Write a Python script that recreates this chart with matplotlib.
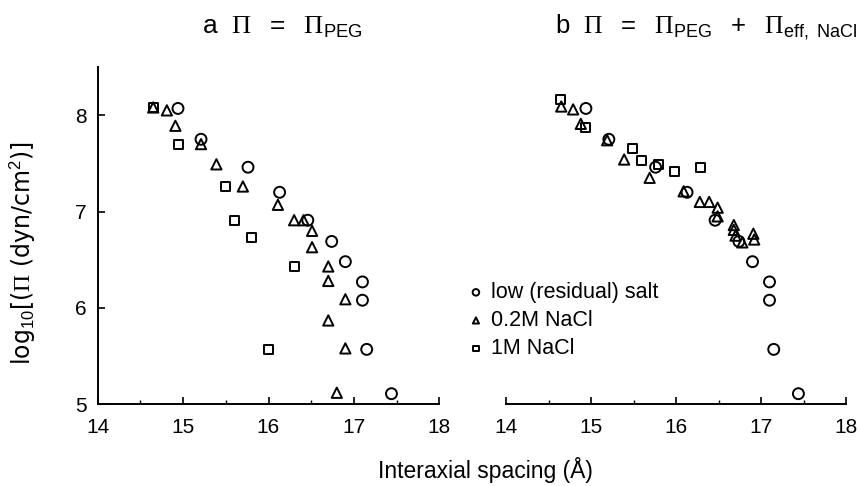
import matplotlib
matplotlib.use("Agg")
import matplotlib.pyplot as plt
from matplotlib.ticker import MultipleLocator

plt.rcParams['font.family'] = ['Liberation Sans', 'DejaVu Sans']
plt.rcParams['mathtext.fontset'] = 'custom'
plt.rcParams['mathtext.rm'] = 'Liberation Sans'
plt.rcParams['mathtext.it'] = 'Liberation Sans:italic'
plt.rcParams['mathtext.sf'] = 'Liberation Serif'

# Low (residual) salt: identical in both panels
low_x = [14.94, 15.21, 15.76, 16.13, 16.46, 16.74, 16.90, 17.10, 17.10, 17.15, 17.44]
low_y = [8.07, 7.75, 7.46, 7.20, 6.91, 6.69, 6.48, 6.27, 6.08, 5.57, 5.11]

# 0.2M NaCl
tri_x_a = [14.65, 14.81, 14.91, 15.21, 15.39, 15.70, 16.11, 16.30, 16.41, 16.51, 16.51,
           16.70, 16.70, 16.90, 16.70, 16.90, 16.80]
tri_y_a = [8.08, 8.05, 7.89, 7.70, 7.49, 7.26, 7.07, 6.91, 6.91, 6.80, 6.63,
           6.43, 6.28, 6.09, 5.87, 5.58, 5.12]
tri_x_b = [14.65, 14.79, 14.88, 15.19, 15.39, 15.69, 16.09, 16.28, 16.39, 16.49, 16.49,
           16.68, 16.68, 16.70, 16.91, 16.92, 16.78]
tri_y_b = [8.09, 8.06, 7.91, 7.74, 7.54, 7.35, 7.21, 7.10, 7.10, 7.04, 6.95,
           6.86, 6.81, 6.75, 6.77, 6.71, 6.68]

# 1M NaCl
sq_x_a = [14.65, 14.95, 15.50, 15.60, 15.80, 16.30, 16.00]
sq_y_a = [8.08, 7.70, 7.26, 6.91, 6.73, 6.43, 5.57]
sq_x_b = [14.64, 14.94, 15.49, 15.59, 15.79, 15.98, 16.29]
sq_y_b = [8.16, 7.87, 7.65, 7.53, 7.49, 7.42, 7.46]

labels = ['low (residual) salt', '0.2M NaCl', '1M NaCl']
xticks = [14, 15, 16, 17, 18]
yticks = [5, 6, 7, 8]

W, H = 859, 486
fig = plt.figure(figsize=(W / 100, H / 100), dpi=100)
axa = fig.add_axes([97.7 / W, 1 - 404.3 / H, 341.6 / W, 337.3 / H])
axb = fig.add_axes([506 / W, 1 - 404.3 / H, 340 / W, 337.3 / H])

mk = dict(facecolors='none', edgecolors='black', linewidths=1.4, clip_on=False, zorder=3)
handles = []
for ax, tx, ty, sx, sy in [(axa, tri_x_a, tri_y_a, sq_x_a, sq_y_a),
                           (axb, tri_x_b, tri_y_b, sq_x_b, sq_y_b)]:
    h1 = ax.scatter(low_x, low_y, marker='o', s=62, **mk)
    h2 = ax.scatter(tx, ty, marker='^', s=55, **mk)
    h3 = ax.scatter(sx, sy, marker='s', s=42, **mk)
    handles = [h1, h2, h3]
    ax.set_xlim(14, 18)
    ax.set_ylim(5, 8.5)
    ax.set_xticks(xticks)
    ax.xaxis.set_minor_locator(MultipleLocator(0.5))
    ax.spines['top'].set_visible(False)
    ax.spines['right'].set_visible(False)
    ax.spines['bottom'].set_linewidth(1.4)
    ax.spines['left'].set_linewidth(1.4)
    ax.tick_params(axis='both', which='major', direction='in', length=5, width=1.2,
                   labelsize=15)
    ax.tick_params(axis='x', which='major', pad=10)
    ax.tick_params(axis='y', which='major', pad=8)
    ax.tick_params(axis='x', which='minor', direction='in', length=3, width=1.0)
    ax.set_facecolor('none')

axa.set_yticks(yticks)
axb.spines['left'].set_visible(False)
axb.set_yticks([])

axa.set_ylabel(r'log$_{\mathrm{10}}$[($\mathsf{\Pi}$ (dyn/cm$^{\mathrm{2}}$)]', fontsize=17,
               family=['DejaVu Sans'])
axa.yaxis.set_label_coords(-0.175, 0.449)

fig.text(485 / W, 1 - 470 / H, 'Interaxial spacing (Å)', ha='center', va='center', fontsize=16.5)

fig.text(202 / W, 1 - 27 / H, r'a  $\mathsf{\Pi}\ \ =\ \ \mathsf{\Pi}_{\mathrm{PEG}}$',
         ha='left', va='center', fontsize=19)
fig.text(555 / W, 1 - 27 / H,
         r'b  $\mathsf{\Pi}\ \ =\ \ \mathsf{\Pi}_{\mathrm{PEG}}\ \ +\ \ \mathsf{\Pi}_{\mathrm{eff,\ NaCl}}$',
         ha='left', va='center', fontsize=18.5)

fig.legend(handles, labels, loc='upper left', bbox_to_anchor=(463 / W, 1 - 282 / H),
           frameon=False, fontsize=15.5, markerscale=0.6, handletextpad=0.1,
           labelspacing=0.33, handlelength=1.2, borderpad=0, borderaxespad=0)

fig.savefig('out.png', dpi=100)
